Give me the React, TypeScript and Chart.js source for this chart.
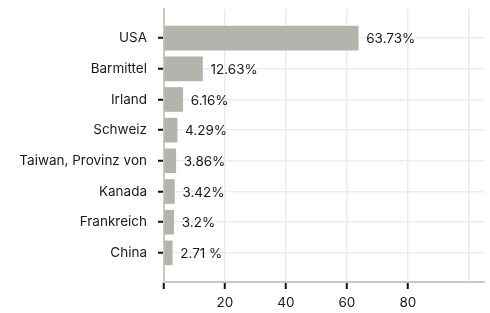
import React, { useEffect, useRef } from "react";
import { Chart, registerables } from "chart.js";

Chart.register(...registerables);

const categories = ["USA", "Barmittel", "Irland", "Schweiz", "Taiwan, Provinz von", "Kanada", "Frankreich", "China"];
const values = [63.73, 12.63, 6.16, 4.29, 3.86, 3.42, 3.2, 2.71];
const valueLabels = ["63.73%", "12.63%", "6.16%", "4.29%", "3.86%", "3.42%", "3.2%", "2.71 %"];
const xTicks = [0, 20, 40, 60, 80, 100];

const FONT = "Inter, 'Noto Sans', sans-serif";
const FSIZE = 13.5;

const labelPlugin = {
  id: "valueLabels",
  afterDatasetsDraw(chart: any) {
    const ctx = chart.ctx;
    const meta = chart.getDatasetMeta(0);
    ctx.save();
    ctx.font = `${FSIZE}px ${FONT}`;
    ctx.fillStyle = "#1a1a1a";
    ctx.textAlign = "left";
    ctx.textBaseline = "middle";
    meta.data.forEach((bar: any, i: number) => {
      ctx.fillText(valueLabels[i], bar.x + 8, bar.y + 1);
    });
    ctx.restore();
  },
};

export default function App() {
  const ref = useRef<HTMLCanvasElement | null>(null);
  useEffect(() => {
    if (!ref.current) return;
    const chart = new Chart(ref.current, {
      type: "bar",
      data: {
        datasets: [
          {
            data: values.map((v, i) => ({ x: v, y: i })),
            backgroundColor: "#b4b3ae",
            borderWidth: 0,
            barThickness: 24,
          },
        ],
      },
      options: {
        indexAxis: "y",
        animation: false,
        responsive: false,
        maintainAspectRatio: false,
        layout: { padding: { top: 9, right: 6, left: 0, bottom: 0 } },
        plugins: { legend: { display: false }, tooltip: { enabled: false } },
        scales: {
          x: {
            type: "linear",
            min: 0,
            max: 105,
            afterBuildTicks: (scale: any) => {
              scale.ticks = xTicks.map((v) => ({ value: v }));
            },
            afterFit: (scale: any) => {
              scale.height = 31;
            },
            grid: {
              color: "#ebebeb",
              lineWidth: 1.5,
              tickLength: 7,
              tickWidth: 2,
              tickColor: (c: any) => (c.tick && c.tick.value === 100 ? "rgba(0,0,0,0)" : "#111111"),
            },
            border: { color: "#c8c8c4", width: 2 },
            ticks: {
              font: { family: FONT, size: FSIZE },
              color: "#1a1a1a",
              padding: 6,
              maxRotation: 0,
              callback: (v: any) => (v === 0 || v === 100 ? "" : String(v)),
            },
          },
          y: {
            type: "linear",
            min: -0.95,
            max: 7.95,
            reverse: true,
            offset: false,
            afterBuildTicks: (scale: any) => {
              scale.ticks = categories.map((_, i) => ({ value: i }));
            },
            afterFit: (scale: any) => {
              scale.width = 164;
              scale.paddingTop = 0;
              scale.paddingBottom = 0;
            },
            grid: {
              offset: false,
              color: "#ededed",
              lineWidth: 1.5,
              tickLength: 6,
              tickWidth: 2,
              tickColor: "#111111",
            },
            border: { color: "#c8c8c4", width: 2 },
            ticks: {
              font: { family: FONT, size: FSIZE },
              color: "#1a1a1a",
              padding: 11,
              callback: (v: any) => categories[v] ?? "",
            },
          },
        },
      },
      plugins: [labelPlugin],
    } as any);
    return () => chart.destroy();
  }, []);
  return (
    <div style={{ position: "fixed", left: 0, top: 0, width: 490, height: 313, background: "#fff" }}>
      <canvas ref={ref} width={490} height={313} style={{ width: 490, height: 313 }} />
    </div>
  );
}
